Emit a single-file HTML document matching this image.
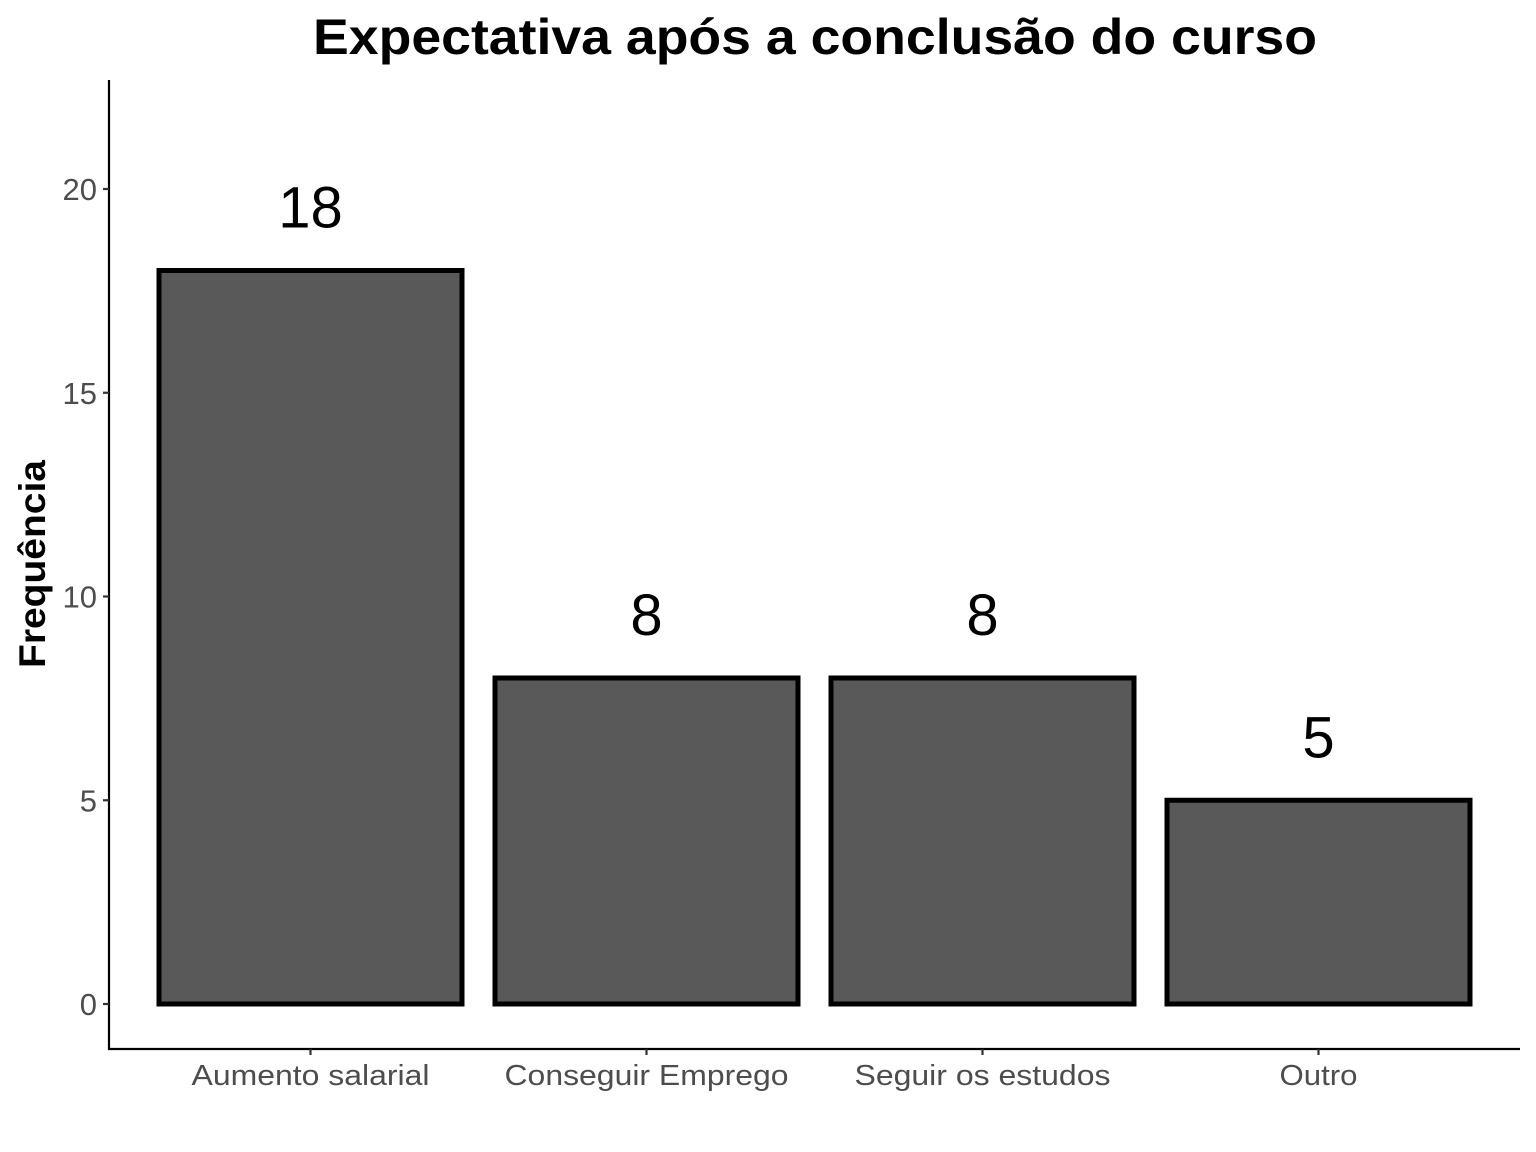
<!DOCTYPE html>
<html><head><meta charset="utf-8"><style>
body{margin:0;background:#fff}
svg{display:block;font-family:"Liberation Sans",Arial,sans-serif}
</style></head><body>
<svg id="chart" width="1536" height="1152">
<text x="815" y="54" text-anchor="middle" font-size="50" font-weight="bold" textLength="1004" lengthAdjust="spacingAndGlyphs">Expectativa após a conclusão do curso</text>
<text transform="translate(45,564) rotate(-90)" text-anchor="middle" font-size="37" font-weight="bold" textLength="208" lengthAdjust="spacingAndGlyphs">Frequência</text>
<line x1="109" y1="80" x2="109" y2="1050" stroke="#000" stroke-width="2.2"/>
<line x1="108" y1="1049" x2="1520" y2="1049" stroke="#000" stroke-width="2.2"/>
</svg>
<script>
const categories=["Aumento salarial","Conseguir Emprego","Seguir os estudos","Outro"];
const values=[18,8,8,5];
const yTicks=[0,5,10,15,20];
const labelWidths=[238,284,256,78];
const svg=document.getElementById('chart');
const ns="http://www.w3.org/2000/svg";
function y(v){return 1004-v*40.75;}
function xc(i){return 310.5+i*336;}
const bw=303;
function mk(t,a){const e=document.createElementNS(ns,t);for(const k in a)e.setAttribute(k,a[k]);svg.appendChild(e);return e;}
yTicks.forEach(t=>{
  const l=mk('line',{x1:103,x2:109,y1:y(t),y2:y(t),stroke:'#333','stroke-width':2.2});
  
  
  const tx=mk('text',{x:97,y:y(t)+11,'text-anchor':'end','font-size':31,fill:'#4d4d4d'});
  tx.textContent=t;
  
  
});
categories.forEach((c,i)=>{
  const r=mk('rect',{x:xc(i)-bw/2,y:y(values[i]),width:bw,height:y(0)-y(values[i]),fill:'#595959',stroke:'#000','stroke-width':5});
  
  
  const v=mk('text',{x:xc(i),y:y(values[i])-43,'text-anchor':'middle','font-size':58,fill:'#000'});
  v.textContent=values[i];
  
  
  const tk=mk('line',{x1:xc(i),x2:xc(i),y1:1049,y2:1055,stroke:'#333','stroke-width':2.2});
  
  
  const lb=mk('text',{x:xc(i),y:1085,'text-anchor':'middle','font-size':29,fill:'#4d4d4d',textLength:labelWidths[i],lengthAdjust:'spacingAndGlyphs'});
  lb.textContent=c;
  
  
});
</script>
</body></html>
